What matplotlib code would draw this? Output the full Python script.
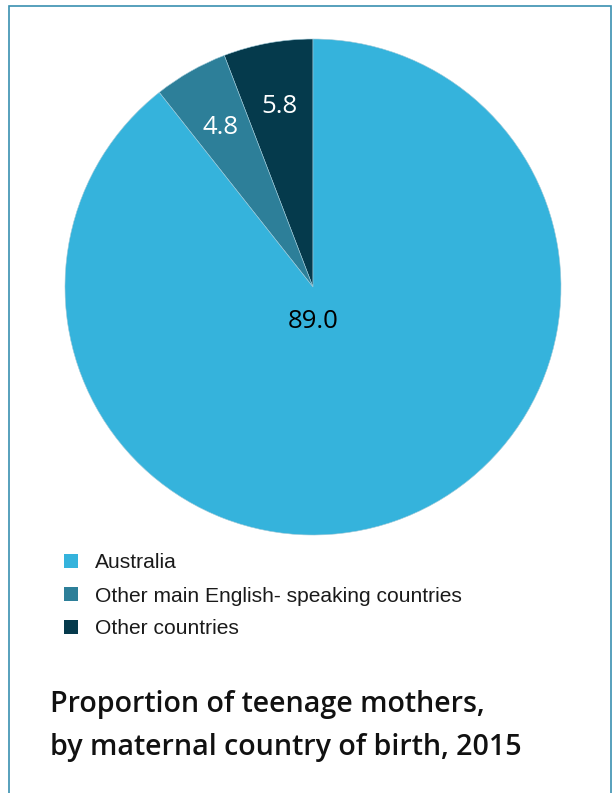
import numpy as np
import matplotlib
matplotlib.use("Agg")
import matplotlib.pyplot as plt
from matplotlib.patches import Rectangle

# data (per cent of teenage mothers)
categories = ["Other countries", "Other main English-speaking countries", "Australia"]
values = [5.8, 4.8, 89.0]
colors = ["#053a4c", "#2d7f99", "#35b3dc"]
label_colors = ["white", "white", "black"]
legend_order = ["Australia", "Other main English- speaking countries", "Other countries"]
legend_colors = ["#35b3dc", "#2d7f99", "#053a4c"]
title = "Proportion of teenage mothers,\nby maternal country of birth, 2015"

W, H = 616, 793
fig = plt.figure(figsize=(W / 100, H / 100), dpi=100)
fig.patch.set_facecolor("white")

# outer frame (open at the bottom)
fig.add_artist(Rectangle((9 / W, -0.05), 602 / W, (H - 6) / H + 0.05,
                         transform=fig.transFigure, fill=False,
                         edgecolor="#3a90b0", lw=1.2))

# pie axes: centre (313, 287) px, radius 248 px
cx, cy, r = 313, 287, 248
ax = fig.add_axes([(cx - r) / W, (H - cy - r) / H, 2 * r / W, 2 * r / H])
wedges, _ = ax.pie(values, colors=colors, startangle=90, counterclock=True,
                   wedgeprops=dict(edgecolor="#9fc9d8", linewidth=0.4))
ax.set_xlim(-1, 1)
ax.set_ylim(-1, 1)
ax.set_aspect("auto")
ax.axis("off")

for w, v, c in zip(wedges, values, label_colors):
    if v > 50:
        x, y = 0.0, -0.14
    else:
        ang = np.deg2rad((w.theta1 + w.theta2) / 2)
        x, y = 0.752 * np.cos(ang), 0.752 * np.sin(ang) - 0.012
    ax.text(x, y, f"{v:.1f}", ha="center", va="center", color=c,
            fontsize=18.5, family="Open Sans", fontweight="medium")

# legend
for i, (name, c) in enumerate(zip(legend_order, legend_colors)):
    yy = 561 + i * 33
    fig.add_artist(Rectangle((64 / W, (H - yy - 7) / H), 14 / W, 14 / H,
                             transform=fig.transFigure, color=c, lw=0))
    fig.text(95 / W, (H - yy - 2) / H, name, ha="left", va="center",
             fontsize=15.1, family="Liberation Sans", color="#1a1a1a")

fig.text(50 / W, (H - 726) / H, title, ha="left", va="center",
         fontsize=20.6, family="Open Sans", fontweight="semibold",
         color="#111111", linespacing=1.6)

fig.savefig("out.png", dpi=100)
